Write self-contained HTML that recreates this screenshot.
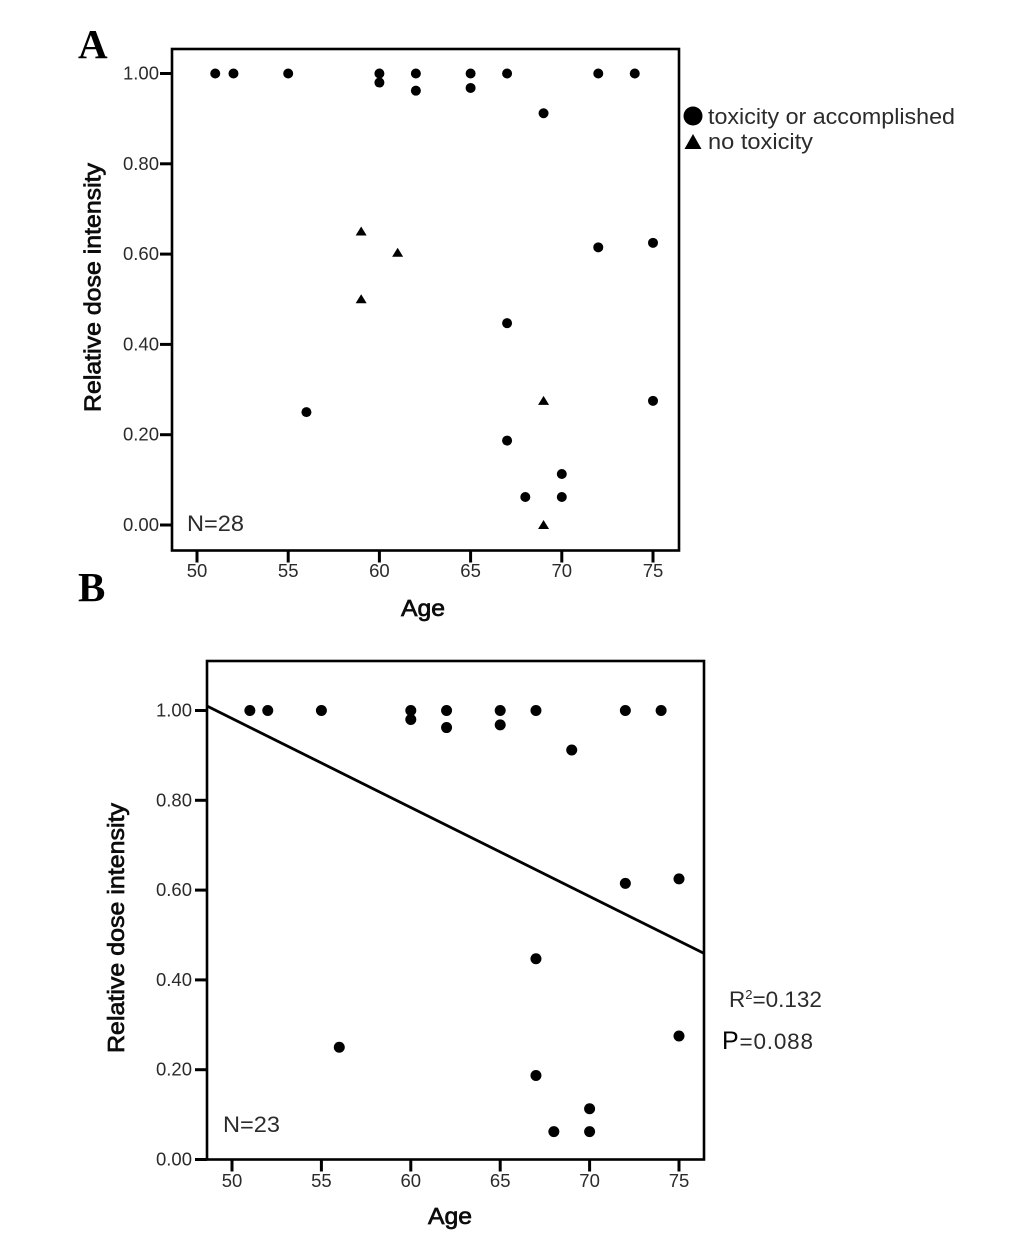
<!DOCTYPE html>
<html lang="en">
<head>
<meta charset="utf-8">
<title>Relative dose intensity by age</title>
<style>
html,body{margin:0;padding:0;background:#fff;}
svg{display:block;}
text{font-family:"Liberation Sans",sans-serif;fill:#2b2b2b;}
.tick{font-size:18.5px;}
.title{font-size:23px;fill:#0c0c0c;stroke:#0c0c0c;stroke-width:.7px;}
.note{font-size:22.5px;}
.panel{font-family:"Liberation Serif",serif;font-weight:bold;font-size:41px;fill:#000;}
</style>
</head>
<body>
<svg id="figure" width="1033" height="1255" viewBox="0 0 1033 1255" xmlns="http://www.w3.org/2000/svg">
  <rect width="1033" height="1255" fill="#fff"/>
  <text class="panel" x="78" y="58">A</text>
  <text class="panel" x="78" y="601">B</text>

  <g id="chart-a"></g>
  <g id="chart-b"></g>

  <text class="title" transform="translate(100.5 412) rotate(-90)" textLength="249" lengthAdjust="spacingAndGlyphs">Relative dose intensity</text>
  <text class="title" x="401" y="616" textLength="44" lengthAdjust="spacingAndGlyphs">Age</text>
  <text class="note" x="187" y="531" textLength="57" lengthAdjust="spacingAndGlyphs">N=28</text>

  <text class="title" transform="translate(124 1053) rotate(-90)" textLength="250" lengthAdjust="spacingAndGlyphs">Relative dose intensity</text>
  <text class="title" x="428" y="1224" textLength="44" lengthAdjust="spacingAndGlyphs">Age</text>
  <text class="note" x="223" y="1132" textLength="57" lengthAdjust="spacingAndGlyphs">N=23</text>

  <g>
    <circle cx="693" cy="116" r="9.5" fill="#000"/>
    <text class="note" x="708" y="124" textLength="247" lengthAdjust="spacingAndGlyphs">toxicity or accomplished</text>
    <polygon points="693,134 701.5,149 684.5,149" fill="#000"/>
    <text class="note" x="708" y="149" textLength="105" lengthAdjust="spacingAndGlyphs">no toxicity</text>
  </g>

  <text class="note" x="729" y="1007">R<tspan font-size="13" dy="-8">2</tspan><tspan dy="8">=0.132</tspan></text>
  <text class="note" x="722" y="1049" textLength="91" lengthAdjust="spacing"><tspan font-size="25" fill="#000">P</tspan>=0.088</text>
</svg>

<script>
const ageTicks = [50, 55, 60, 65, 70, 75];
const doseTicks = [0, 0.2, 0.4, 0.6, 0.8, 1];
const doseTickLabels = ["0.00", "0.20", "0.40", "0.60", "0.80", "1.00"];

const circleAges = [51, 52, 55, 60, 60, 62, 62, 65, 65, 67, 72, 74, 69, 72, 75, 67, 56, 67, 75, 70, 68, 70];
const circleDoses = [1, 1, 1, 1, 0.98, 1, 0.962, 1, 0.968, 1, 1, 1, 0.912, 0.615, 0.625, 0.447, 0.25, 0.187, 0.275, 0.113, 0.062, 0.062];

const triangleAges = [59, 61, 59, 69, 69];
const triangleDoses = [0.65, 0.603, 0.5, 0.275, 0];

const fitLineAges = [48.6, 76.4];
const fitLineDoses = [1.01, 0.459];

const NS = "http://www.w3.org/2000/svg";

function scale(d0, r0, d1, r1) {
  return function (v) { return r0 + (v - d0) * (r1 - r0) / (d1 - d0); };
}

function make(parent, tag, attrs) {
  const el = document.createElementNS(NS, tag);
  Object.keys(attrs).forEach(function (k) { el.setAttribute(k, attrs[k]); });
  parent.appendChild(el);
  return el;
}

function drawAxes(g, box, xScale, yScale, tickLen, xLabelY, yLabelX) {
  const frame = make(g, "rect", { x: box.left, y: box.top, width: box.right - box.left, height: box.bottom - box.top, fill: "none", stroke: "#000", "stroke-width": 2.6 });
  
  

  ageTicks.forEach(function (t) {
    const x = xScale(t);
    const mark = make(g, "line", { x1: x, x2: x, y1: box.bottom, y2: box.bottom + tickLen, stroke: "#000", "stroke-width": 3 });
    
    
    const label = make(g, "text", { x: x, y: xLabelY, "text-anchor": "middle", class: "tick" });
    label.textContent = String(t);
    
    
  });

  doseTicks.forEach(function (t, i) {
    const y = yScale(t);
    const mark = make(g, "line", { x1: box.left, x2: box.left - tickLen, y1: y, y2: y, stroke: "#000", "stroke-width": 3 });
    
    
    const label = make(g, "text", { x: yLabelX, y: y + 6, "text-anchor": "end", class: "tick" });
    label.textContent = doseTickLabels[i];
    
    
  });
}

function drawCircles(g, xScale, yScale, r) {
  circleAges.forEach(function (age, i) {
    const c = make(g, "circle", { cx: xScale(age), cy: yScale(circleDoses[i]), r: r, fill: "#000" });
    
    
  });
}

function drawTriangles(g, xScale, yScale) {
  triangleAges.forEach(function (age, i) {
    const x = xScale(age), y = yScale(triangleDoses[i]);
    const p = make(g, "polygon", { points: (x) + "," + (y - 5) + " " + (x + 5.5) + "," + (y + 4) + " " + (x - 5.5) + "," + (y + 4), fill: "#000" });
    
    
  });
}

function drawFitLine(g, xScale, yScale) {
  const l = make(g, "line", {
    x1: xScale(fitLineAges[0]), y1: yScale(fitLineDoses[0]),
    x2: xScale(fitLineAges[1]), y2: yScale(fitLineDoses[1]),
    stroke: "#000", "stroke-width": 2.8
  });
  
  
}

/* Panel A */
const gA = document.getElementById("chart-a");
const xA = scale(50, 197, 75, 653);
const yA = scale(0, 525, 1, 73.5);
drawAxes(gA, { left: 172, top: 49, right: 679, bottom: 550.5 }, xA, yA, 12, 577, 159);
drawCircles(gA, xA, yA, 5);
drawTriangles(gA, xA, yA);

/* Panel B */
const gB = document.getElementById("chart-b");
const xB = scale(50, 232, 75, 679);
const yB = scale(0, 1159.5, 1, 710.5);
drawAxes(gB, { left: 207, top: 661, right: 704, bottom: 1159.5 }, xB, yB, 12, 1187, 192);
drawCircles(gB, xB, yB, 5.5);
drawFitLine(gB, xB, yB);
</script>
</body>
</html>
